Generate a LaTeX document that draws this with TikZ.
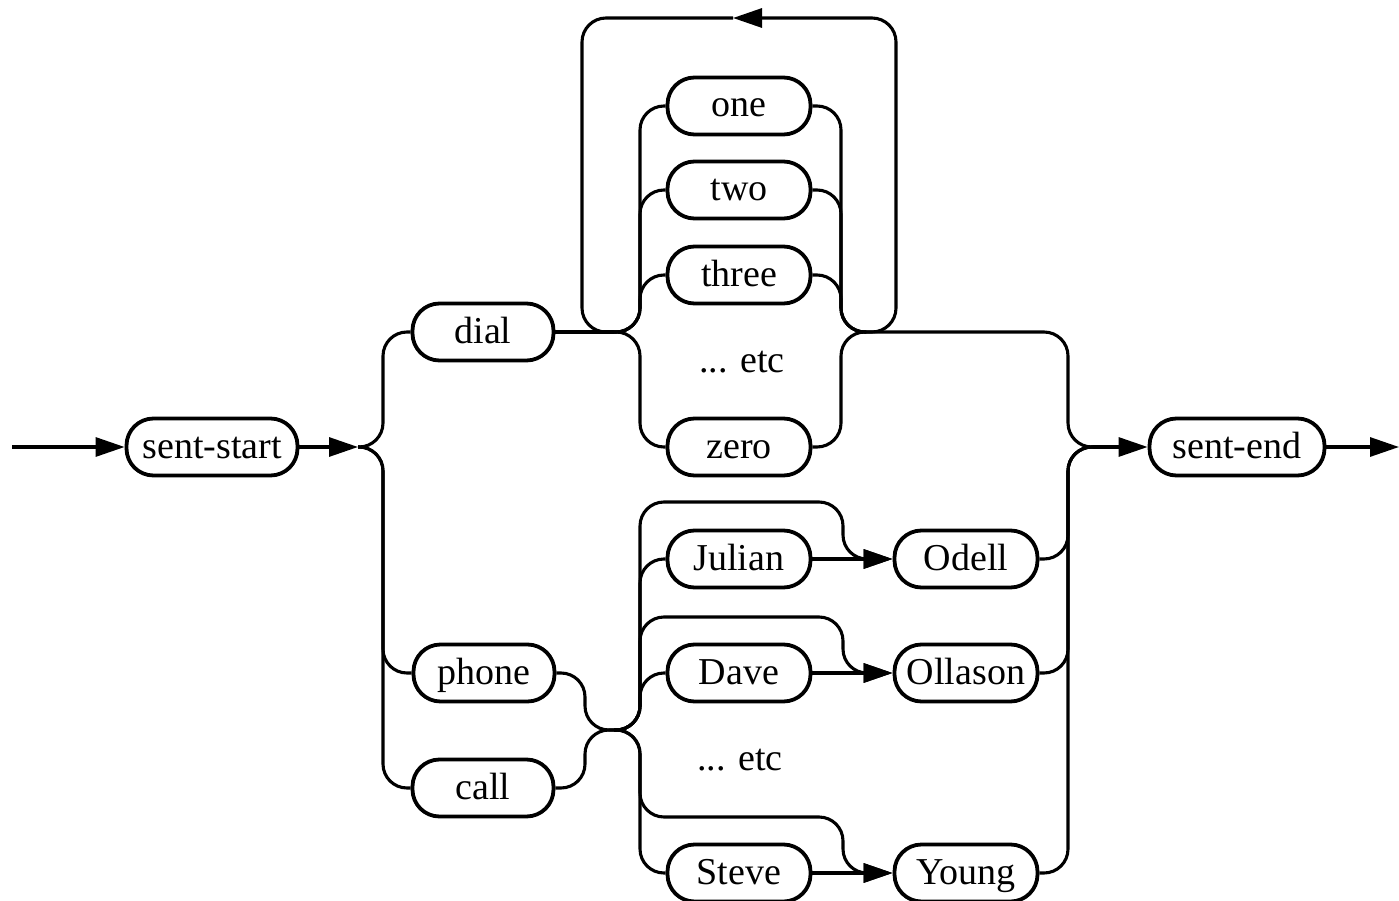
\documentclass[tikz,border=0pt]{standalone}
\usepackage{fontspec}
\setmainfont{Liberation Serif}
\usetikzlibrary{arrows.meta}
\begin{document}
\begin{tikzpicture}[x=1pt,y=-1pt,
  word/.style={draw, line width=3.8pt, rounded corners=27pt, minimum width=143pt,
    minimum height=57pt, inner xsep=3pt, inner ysep=0pt,
    text height=30pt, text depth=8pt, font=\fontsize{38}{44}\selectfont},
  plain/.style={font=\fontsize{38}{44}\selectfont},
  wire/.style={line width=3.1pt, rounded corners=24pt},
  arr/.style={wire, -{Triangle[length=29pt,width=19pt]}},
]
\useasboundingbox (0,0) rectangle (1399,901);

% nodes
\node[word, minimum width=171pt] (ss) at (212,447) {sent-start};
\node[word, minimum width=141pt] (dial) at (483,332) {dial};
\node[word, minimum width=141pt] (phone) at (484,673) {phone};
\node[word, minimum width=141pt] (call) at (483,788) {call};
\node[word] (one) at (739,106) {one};
\node[word] (two) at (739,190) {two};
\node[word] (three) at (739,275) {three};
\node[plain] (etcA) at (742,362) {... etc};
\node[word] (zero) at (739,447) {zero};
\node[word] (julian) at (739,559) {Julian};
\node[word] (dave) at (739,673) {Dave};
\node[plain] (etcB) at (740,760) {... etc};
\node[word] (steve) at (739,873) {Steve};
\node[word] (odell) at (966,559) {Odell};
\node[word] (ollason) at (966,673) {Ollason};
\node[word] (young) at (966,873) {Young};
\node[word, minimum width=175pt] (se) at (1237,447) {sent-end};

% junction coordinates
\coordinate (in) at (12,447);
\coordinate (J1) at (358,447);
\coordinate (Lj) at (614,332);
\coordinate (Rj) at (866,332);
\coordinate (J3) at (614,730);
\coordinate (J5) at (1093,447);
\coordinate (out) at (1399,447);
\coordinate (LA) at (733,18);

% entry
\draw[arr] (in) -- (ss.west);
\draw[arr] (ss.east) -- (J1);
\draw[wire] (J1) -- (383,447) |- (dial.west);
\draw[wire] (J1) -- (383,447) |- (phone.west);
\draw[wire] (J1) -- (383,447) |- (call.west);

% dial branch
\draw[wire] (dial.east) -- (Lj);
\foreach \n in {one,two,three,zero} {
  \draw[wire] (Lj) -- (640,332) |- (\n.west);
  \draw[wire] (\n.east) -| (841,332) -- (Rj);
}
% loop
\draw[arr] (Rj) -- (896,332) -- (896,18) -- (LA);
\draw[wire] (LA) -- (582,18) -- (582,332) -- (Lj);
\draw[wire] (Rj) -- (1068,332) -- (1068,447) -- (J5);

% phone / call branch
\draw[wire] (phone.east) -- (585,673) -- (585,730) -- (J3);
\draw[wire] (call.east) -- (585,788) -- (585,730) -- (J3);

\draw[wire] (J3) -- (640,730) |- (julian.west);
\draw[arr] (J3) -- (640,730) |- (843,502) |- (odell.west);
\draw[arr] (julian.east) -- (odell.west);

\draw[wire] (J3) -- (640,730) |- (dave.west);
\draw[arr] (J3) -- (640,730) |- (843,617) |- (ollason.west);
\draw[arr] (dave.east) -- (ollason.west);

\draw[wire] (J3) -- (640,730) |- (steve.west);
\draw[arr] (J3) -- (640,730) |- (843,817) |- (young.west);
\draw[arr] (steve.east) -- (young.west);

% right side
\foreach \n in {odell,ollason,young} {
  \draw[wire] (\n.east) -| (1068,447) -- (J5);
}
\draw[arr] (J5) -- (se.west);
\draw[arr] (se.east) -- (out);
\end{tikzpicture}
\end{document}
